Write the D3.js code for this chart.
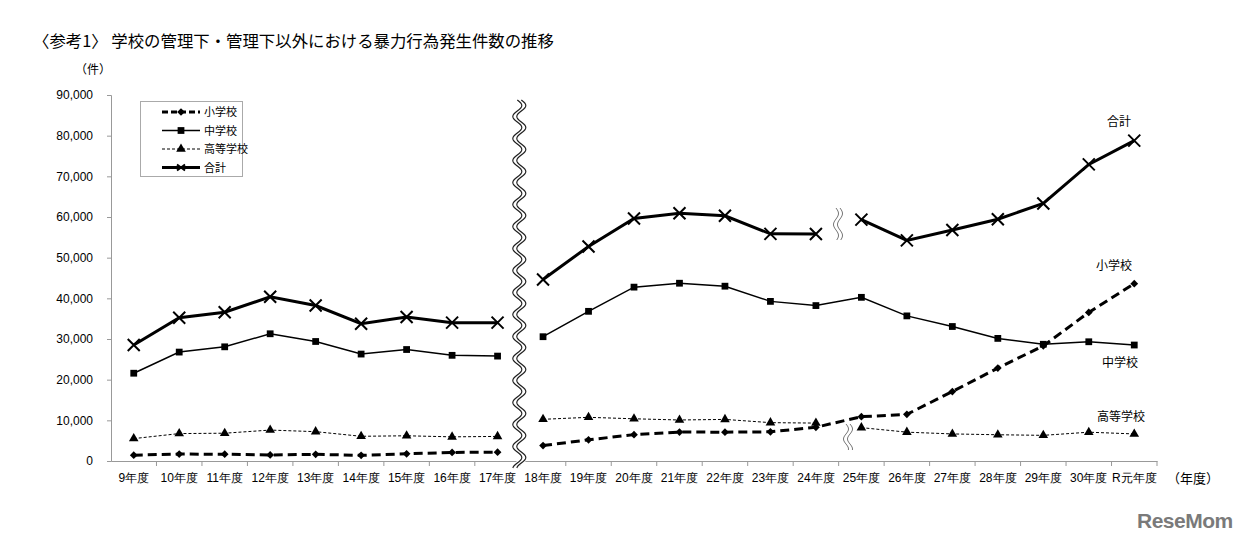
<!DOCTYPE html>
<html><head><meta charset="utf-8">
<script src="https://cdn.jsdelivr.net/npm/d3@7"></script>
<style>body{margin:0;background:#fff}svg{display:block;font-family:"Liberation Sans","Noto Sans CJK JP",sans-serif}</style>
</head><body>
<svg id="c" width="1246" height="540"></svg>
<script>
const categories = ["9年度","10年度","11年度","12年度","13年度","14年度","15年度","16年度","17年度",
  "18年度","19年度","20年度","21年度","22年度","23年度","24年度","25年度","26年度","27年度","28年度","29年度","30年度","R元年度"];
const elementary = [1432,1706,1668,1483,1630,1393,1777,2100,2176, 3803,5214,6484,7115,7092,7175,8296,10896,11472,17078,22847,28315,36536,43614];
const juniorHigh = [21585,26783,28077,31285,29388,26295,27414,25984,25796, 30564,36803,42754,43715,42987,39251,38218,40246,35683,33073,30148,28702,29320,28518];
const highSchool = [5509,6743,6833,7606,7213,6077,6201,5938,6046, 10254,10739,10380,10085,10226,9431,9322,8203,7091,6655,6455,6308,7084,6655];
const total = [28526,35232,36578,40374,38231,33765,35392,34022,34018, 44621,52756,59618,60915,60305,55857,55836,59345,54246,56806,59444,63325,72940,78787];
const yTicks = [0,10000,20000,30000,40000,50000,60000,70000,80000,90000];
// segments: [start,end] index ranges drawn as connected lines
const segAll = [[0,8],[9,22]];
const segSplit = [[0,8],[9,15],[16,22]];

const svg = d3.select("#c");
const x = d3.scaleBand().domain(categories).range([111,1157]).paddingInner(0).paddingOuter(0);
const y = d3.scaleLinear().domain([0,90000]).range([461,95]);
const cx = i => x(categories[i]) + x.bandwidth()/2;

// title
svg.append("text").attr("x",33).attr("y",47).attr("font-size",16.4).attr("font-family","Noto Sans CJK JP")
  .text("〈参考1〉 学校の管理下・管理下以外における暴力行為発生件数の推移");
svg.append("text").attr("x",75).attr("y",74).attr("font-size",12).attr("font-family","Noto Sans CJK JP").text("（件）");

// y axis
const ya = svg.append("g").attr("transform","translate(111,0)")
  .call(d3.axisLeft(y).tickValues(yTicks).tickFormat(d3.format(",")).tickSize(4).tickPadding(14));
ya.select(".domain").attr("stroke","#999");
ya.selectAll(".tick line").attr("stroke","#999");
ya.selectAll("text").attr("font-size",12).attr("fill","#000").attr("font-family","Liberation Sans");

// x axis
const xa = svg.append("g").attr("transform","translate(0,461)")
  .call(d3.axisBottom(x).tickSize(0).tickPadding(12));
xa.select(".domain").attr("stroke","#999");
xa.selectAll("text").attr("font-size",12).attr("fill","#000");
svg.append("g").selectAll("line").data(categories.slice(1).concat(["__end"])).join("line")
  .attr("x1",(d,i)=> i<categories.length-1 ? x(d) : x.range()[1])
  .attr("x2",(d,i)=> i<categories.length-1 ? x(d) : x.range()[1])
  .attr("y1",461).attr("y2",466).attr("stroke","#999");
svg.append("text").attr("x",1167).attr("y",483).attr("font-size",13).attr("font-family","Noto Sans CJK JP").text("（年度）");

// series drawing
const line = d3.line().x(d=>cx(d.i)).y(d=>y(d.v));
function drawSeries(vals, segs, style){
  const g = svg.append("g");
  segs.forEach(([a,b])=>{
    const pts = d3.range(a,b+1).map(i=>({i,v:vals[i]}));
    g.append("path").attr("d",line(pts)).attr("fill","none").attr("stroke","#000")
      .attr("stroke-width",style.w).attr("stroke-dasharray",style.dash||null);
  });
  return g;
}
function marker(g, type, px, py){
  if(type==="x"){
    const s=6;
    g.append("path").attr("d",`M${px-s},${py-s}L${px+s},${py+s}M${px-s},${py+s}L${px+s},${py-s}`)
      .attr("stroke","#000").attr("stroke-width",2).attr("fill","none");
  } else if(type==="diamond"){
    g.append("path").attr("d",d3.symbol(d3.symbolSquare,30)()).attr("transform",`translate(${px},${py}) rotate(45)`).attr("fill","#000");
  } else {
    const sym = type==="square"?d3.symbolSquare:d3.symbolTriangle;
    const size = type==="square"?46:40;
    g.append("path").attr("d",d3.symbol(sym,size)()).attr("transform",`translate(${px},${py})`).attr("fill","#000");
  }
}
const series = [
  {vals:highSchool, segs:segSplit, style:{w:1,dash:"3,2"}, m:"triangle"},
  {vals:juniorHigh, segs:segAll, style:{w:1.5}, m:"square"},
  {vals:elementary, segs:segAll, style:{w:3,dash:"9,5"}, m:"diamond"},
  {vals:total, segs:segSplit, style:{w:3}, m:"x"}
];
series.forEach(s=>{
  const g = drawSeries(s.vals, s.segs, s.style);
  s.vals.forEach((v,i)=>marker(g, s.m, cx(i), y(v)));
});

// wavy break helper
function wave(cxp, y0, y1, amp, period, gap, color, sw, bg){
  const pts = d3.range(y0, y1+0.5, 1);
  const mk = off => d3.line().x(t=>cxp+off+amp*Math.sin((t-y0)/period*2*Math.PI)).y(t=>t)(pts);
  if(bg) svg.append("path").attr("d",mk(0)).attr("stroke","#fff").attr("stroke-width",gap+2).attr("fill","none");
  svg.append("path").attr("d",mk(-gap/2)).attr("stroke",color).attr("stroke-width",sw).attr("fill","none");
  svg.append("path").attr("d",mk(gap/2)).attr("stroke",color).attr("stroke-width",sw).attr("fill","none");
}
const bx = x(categories[9]);
wave(bx-1, 100, 468, 4.5, 22, 4, "#222", 1.2, true);
wave(838, 208, 240, 2.5, 22, 4, "#777", 1, false);
wave(848, 424, 450, 2.5, 20, 4, "#777", 1, false);

// legend
const lg = svg.append("g");
lg.append("rect").attr("x",140.5).attr("y",101.5).attr("width",102).attr("height",75).attr("fill","#fff").attr("stroke","#aaa");
const legItems = [
  {name:"小学校", style:{w:3,dash:"6,3"}, m:"diamond"},
  {name:"中学校", style:{w:1.5}, m:"square"},
  {name:"高等学校", style:{w:1,dash:"3,2"}, m:"triangle"},
  {name:"合計", style:{w:3}, m:"x"}
];
legItems.forEach((it,k)=>{
  const yy = 112 + k*18.5;
  lg.append("line").attr("x1",162).attr("x2",200).attr("y1",yy).attr("y2",yy).attr("stroke","#000")
    .attr("stroke-width",it.style.w).attr("stroke-dasharray",it.style.dash||null);
  if(it.m==="x"){
    lg.append("path").attr("d",`M${177},${yy-3}L${185},${yy+3}M${177},${yy+3}L${185},${yy-3}`).attr("stroke","#000").attr("stroke-width",2);
  } else marker(lg, it.m, 181, yy);
  lg.append("text").attr("x",204).attr("y",yy+4).attr("font-size",11).attr("font-family","Noto Sans CJK JP").text(it.name);
});

// series end labels
const endLabels = [["合計",1107,126],["小学校",1096,270],["中学校",1102,367],["高等学校",1097,421]];
endLabels.forEach(([t,lx,ly])=>svg.append("text").attr("x",lx).attr("y",ly).attr("font-size",12).attr("font-family","Noto Sans CJK JP").text(t));

// watermark
svg.append("text").attr("x",1137).attr("y",528).attr("font-size",21).attr("font-weight","bold").attr("fill","#7a7a7a")
  .attr("font-family","Liberation Sans").attr("letter-spacing","-0.5").text("ReseMom");
</script>
</body></html>
